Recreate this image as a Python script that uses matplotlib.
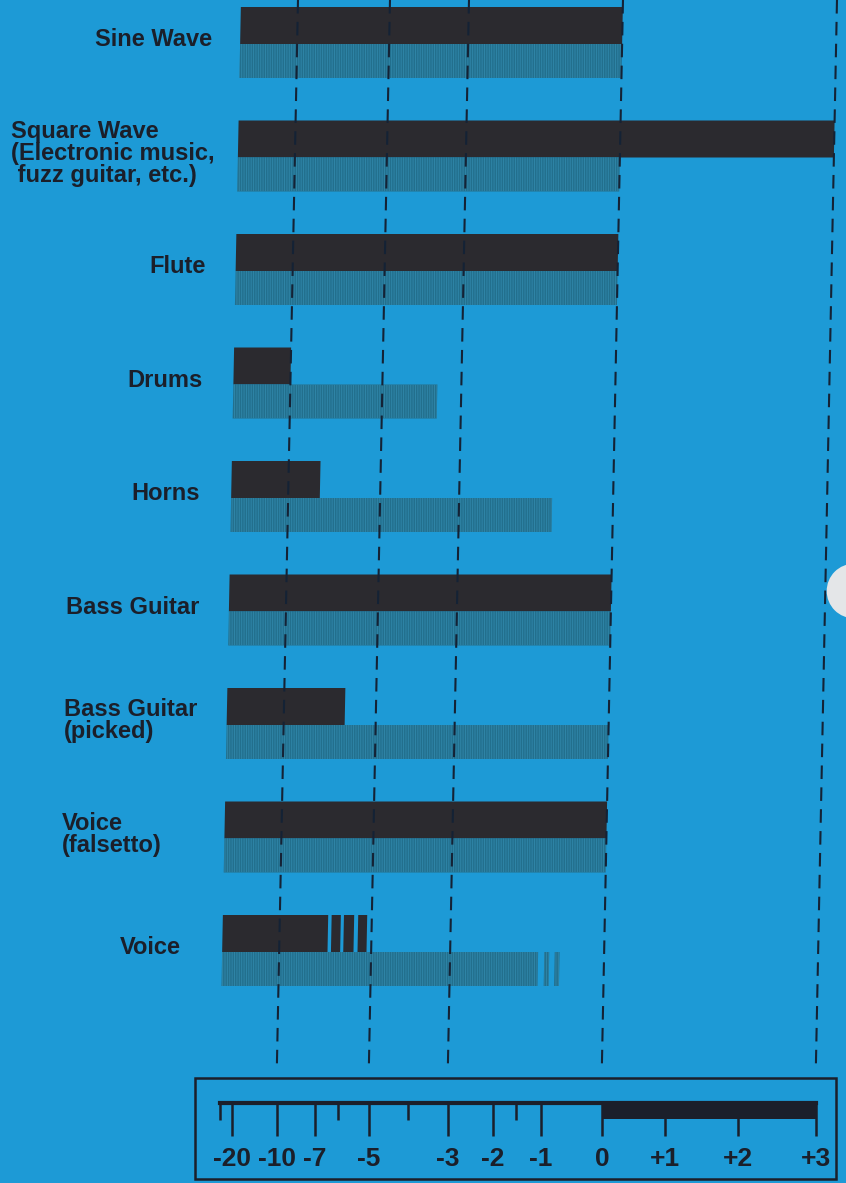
import numpy as np
import matplotlib
matplotlib.use("Agg")
import matplotlib.pyplot as plt
import matplotlib.transforms as mtransforms
from matplotlib.patches import Rectangle, Circle

plt.rcParams['font.family'] = ['Liberation Sans', 'DejaVu Sans']
plt.rcParams['hatch.linewidth'] = 0.7

# sound sources, top to bottom
sources = ["Sine Wave",
           "Square Wave\n(Electronic music,\n fuzz guitar, etc.)",
           "Flute", "Drums", "Horns", "Bass Guitar",
           "Bass Guitar\n(picked)", "Voice\n(falsetto)", "Voice"]
# peak level (black bar) and what the VU meter reads (striped bar)
peak_vu = [0, 3, 0, -10, -7.5, 0, -6, 0, -6.55]
meter_vu = [0, 0, 0, -3.6, -1, 0, 0, 0, -1.1]
# flickering ends of the voice bars, (from, to)
voice_peak_flicker = [(-6.4, -6.0), (-5.9, -5.57), (-5.44, -5.15)]
voice_meter_flicker = [(-0.98, -0.9), (-0.81, -0.73)]

# meter scale in the box
scale_ticks = [-20, -10, -7, -5, -3, -2, -1, 0, 1, 2, 3]
scale_labels = ["-20", "-10", "-7", "-5", "-3", "-2", "-1", "0", "+1", "+2", "+3"]
scale_minor = [-6, -4, -1.5]
grid_vu = [-10, -5, -3, 0, 3]

# the meter face is not linear: where each VU mark sits along the scale
floor = -25
face_vu = [floor, -20, -10, -7, -6, -5, -4, -3, -2, -1.5, -1, 0, 1, 2, 3]
face_pos = [0, 12, 57, 95, 118, 149, 188, 228, 273, 296, 321, 382, 445, 518, 596]


def fwd(v):
    return np.interp(v, face_vu, face_pos)


def inv(p):
    return np.interp(p, face_pos, face_vu)


BLUE = '#1d9ad6'
INK = '#1b1f2a'
BLACK = '#2b2a2f'
TEAL = '#226f8d'
STRIPE = '#2f85a8'
DASH = '#142235'

W, H = 846, 1183
fig = plt.figure(figsize=(W / 100, H / 100), dpi=100, facecolor=BLUE)


def box(x0, y0, x1, y1):
    # pixel box, y measured from the top
    return [x0 / W, 1 - y1 / H, (x1 - x0) / W, (y1 - y0) / H]


row = 113.5
ax = fig.add_axes(box(220, 0, 816, 1070))
ax.set_xscale('function', functions=(fwd, inv))
ax.set_xlim(floor, 3)
ax.set_ylim((1070 - 7) / row, -7 / row)
ax.axis('off')

# the printed page is slightly skewed
y0 = H - 1060
skew = mtransforms.Affine2D().translate(0, -y0).skew(np.arctan(20 / 1010), 0).translate(0, y0)
tr = ax.transData + skew

n = len(sources)
rows = np.arange(n)
peak_h, meter_h = 37 / row, 34 / row
pk = ax.barh(rows + peak_h / 2, np.array(peak_vu) - floor, left=floor,
             height=peak_h, color=BLACK, lw=0)
mt = ax.barh(rows + peak_h + meter_h / 2, np.array(meter_vu) - floor, left=floor,
             height=meter_h, color=TEAL, edgecolor=STRIPE, hatch='|||||||', lw=0)

v = n - 1
a = np.array(voice_peak_flicker)
fp = ax.barh([v + peak_h / 2] * len(a), a[:, 1] - a[:, 0], left=a[:, 0],
             height=peak_h, color=BLACK, lw=0)
b = np.array(voice_meter_flicker)
fm = ax.barh([v + peak_h + meter_h / 2] * len(b), b[:, 1] - b[:, 0], left=b[:, 0],
             height=meter_h, color=TEAL, edgecolor=STRIPE, hatch='|||||||', lw=0)

for p in list(pk) + list(mt) + list(fp) + list(fm):
    p.set_transform(tr)
    p.set_clip_on(False)

ax.vlines(grid_vu, -7 / row, (1070 - 7) / row, colors=DASH, linewidth=1.5,
          linestyles=(0, (6.5, 4)), transform=tr, zorder=3, clip_on=False)

# labels, right edge of each in pixels
label_right = [212, 215, 206, 203, 200, 199, 197, 162, 181]
lab_tr = mtransforms.blended_transform_factory(fig.transFigure, ax.transData)
for i, (s, xr) in enumerate(zip(sources, label_right)):
    ax.text(xr / W, i + 0.29, s, transform=lab_tr, ha='right', va='center',
            multialignment='left', fontsize=17, fontweight='bold', color=INK,
            linespacing=0.95)

# meter scale box
fig.add_artist(Rectangle((195 / W, 1 - 1179 / H), (836 - 195) / W, (1179 - 1078) / H,
                         transform=fig.transFigure, fill=False, lw=1.8, ec=INK))

sc = fig.add_axes(box(220, 1103, 816, 1137))
sc.set_xscale('function', functions=(fwd, inv))
sc.set_xlim(floor, 3)
sc.set_ylim(0, 1)
sc.patch.set_visible(False)
for s in ['left', 'right', 'bottom']:
    sc.spines[s].set_visible(False)
sc.spines['top'].set_linewidth(3)
sc.spines['top'].set_color(INK)
sc.set_yticks([])
sc.set_xticks(scale_ticks, scale_labels, fontsize=19, fontweight='bold', color=INK)
sc.set_xticks([floor] + scale_minor, minor=True)
sc.tick_params(axis='x', which='both', top=True, bottom=False, labelbottom=True,
               labeltop=False, direction='in', width=1.8, color=INK)
sc.tick_params(axis='x', which='major', length=24, pad=7)
sc.tick_params(axis='x', which='minor', length=12)
sc.axvspan(0, 3, ymin=1 - 16 / 34, ymax=1, color=INK, lw=0)

# punched hole at the page edge
fig.add_artist(Circle((8.54, (H - 591) / 100), 0.273, transform=fig.dpi_scale_trans,
                      fc='#e4e6e8', ec='none'))

fig.savefig('out.png', dpi=100, facecolor=BLUE)
